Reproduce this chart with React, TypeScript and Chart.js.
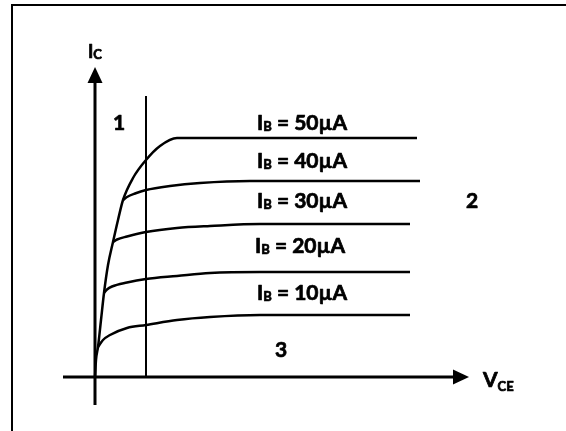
import React, { useEffect, useRef } from "react";
import { Chart, registerables } from "chart.js";

Chart.register(...registerables);

// Output characteristic curves: V_CE (V) vs I_C (mA)
const vce10 = [0.15, 0.4, 0.75, 1.6, 2.55, 4.1, 5.75, 8.25, 15.75];
const ic10 = [0.6, 0.74, 0.84, 0.98, 1.04, 1.14, 1.2, 1.24, 1.24];
const vce20 = [0.45, 0.6, 0.85, 1.6, 2.55, 4.1, 5.75, 8.25, 15.75];
const ic20 = [1.68, 1.75, 1.81, 1.89, 1.96, 2.02, 2.08, 2.1, 2.1];
const vce30 = [0.9, 1.1, 1.6, 2.55, 4.1, 5.75, 8.25, 15.75];
const ic30 = [2.7, 2.75, 2.81, 2.9, 2.98, 3.02, 3.06, 3.06];
const vce40 = [1.4, 1.6, 2.0, 2.55, 3.75, 5.25, 7.75, 16.25];
const ic40 = [3.54, 3.6, 3.67, 3.74, 3.82, 3.88, 3.92, 3.92];
const vce50 = [0, 0.05, 0.15, 0.3, 0.45, 0.65, 0.9, 1.15, 1.4, 1.9, 2.55, 3.25, 4.1, 16.1];
const ic50 = [0, 0.34, 0.6, 1.14, 1.68, 2.24, 2.7, 3.14, 3.54, 3.98, 4.34, 4.62, 4.78, 4.78];

// Saturation boundary line
const satV = [2.55, 2.55];
const satI = [0, 5.62];

// Axes (ending at arrow bases)
const xAxisV = [-1.6, 17.95];
const xAxisI = [0, 0];
const yAxisV = [0, 0];
const yAxisI = [-0.56, 5.9];

// Labels
const baseCurrents = ["50", "40", "30", "20", "10"];
const baseLabelV = [8.1, 8.1, 8.1, 8.0, 8.1];
const baseLabelI = [4.94, 4.18, 3.38, 2.48, 1.54];
const regionNames = ["1", "2", "3"];
const regionV = [1.2, 18.85, 9.3];
const regionI = [4.94, 3.38, 0.4];

const FONT = "Lato, 'Open Sans', sans-serif";

const pts = (xs: number[], ys: number[]) => xs.map((x, i) => ({ x, y: ys[i] }));

const arrowPlugin = {
  id: "arrowheads",
  afterDatasetsDraw(chart: any) {
    const ctx = chart.ctx;
    chart.data.datasets.forEach((ds: any, i: number) => {
      if (!ds.arrow) return;
      const meta = chart.getDatasetMeta(i);
      const n = meta.data.length;
      const a = meta.data[n - 2];
      const b = meta.data[n - 1];
      const ang = Math.atan2(b.y - a.y, b.x - a.x);
      const len = 15;
      const half = 7.5;
      ctx.save();
      ctx.translate(b.x, b.y);
      ctx.rotate(ang);
      ctx.beginPath();
      ctx.moveTo(-1, -half);
      ctx.lineTo(len, 0);
      ctx.lineTo(-1, half);
      ctx.closePath();
      ctx.fillStyle = "#000";
      ctx.fill();
      ctx.restore();
    });
  },
};

function txt(ctx: any, s: string, x: number, y: number) {
  ctx.fillText(s, x, y);
  ctx.strokeText(s, x, y);
}

function drawSub(ctx: any, x: number, y: number, main: string, sub: string, rest: string, size: number, subSize: number, subDrop: number) {
  ctx.font = `bold ${size}px ${FONT}`;
  txt(ctx, main, x, y);
  let cx = x + ctx.measureText(main).width;
  ctx.font = `bold ${subSize}px ${FONT}`;
  txt(ctx, sub, cx, y + subDrop);
  cx += ctx.measureText(sub).width;
  if (rest) {
    ctx.font = `bold ${size}px ${FONT}`;
    txt(ctx, rest, cx, y);
  }
}

const labelPlugin = {
  id: "labels",
  afterDatasetsDraw(chart: any) {
    const ctx = chart.ctx;
    const xs = chart.scales.x;
    const ys = chart.scales.y;
    ctx.save();
    ctx.fillStyle = "#000";
    ctx.strokeStyle = "#000";
    ctx.lineWidth = 0.7;
    ctx.lineJoin = "round";
    ctx.textBaseline = "alphabetic";
    ctx.textAlign = "left";
    baseCurrents.forEach((c, i) => {
      drawSub(ctx, xs.getPixelForValue(baseLabelV[i]), ys.getPixelForValue(baseLabelI[i]), "I", "B", " = " + c + "\u00B5A", 21, 13, 1);
    });
    ctx.font = `bold 21px ${FONT}`;
    ctx.textAlign = "center";
    regionNames.forEach((r, i) => {
      txt(ctx, r, xs.getPixelForValue(regionV[i]), ys.getPixelForValue(regionI[i]));
    });
    ctx.textAlign = "left";
    drawSub(ctx, xs.getPixelForValue(-0.35), ys.getPixelForValue(6.38), "I", "C", "", 18, 13, 1);
    drawSub(ctx, xs.getPixelForValue(19.4), ys.getPixelForValue(-0.2), "V", "CE", "", 21, 13, 4);
    ctx.restore();
  },
};

export default function App() {
  const ref = useRef<HTMLCanvasElement>(null);
  useEffect(() => {
    if (!ref.current) return;
    const curve = (xs: number[], ys: number[]) => ({
      data: pts(xs, ys),
      borderColor: "#000",
      borderWidth: 2.5,
      pointRadius: 0,
      cubicInterpolationMode: "monotone" as const,
      fill: false,
    });
    const straight = (xs: number[], ys: number[], w: number, arrow = false) => ({
      data: pts(xs, ys),
      borderColor: "#000",
      borderWidth: w,
      pointRadius: 0,
      tension: 0,
      fill: false,
      borderCapStyle: "butt" as const,
      arrow,
    });
    const chart = new Chart(ref.current, {
      type: "line",
      data: {
        datasets: [
          straight(xAxisV, xAxisI, 3, true),
          straight(yAxisV, yAxisI, 3, true),
          straight(satV, satI, 2),
          curve(vce10, ic10),
          curve(vce20, ic20),
          curve(vce30, ic30),
          curve(vce40, ic40),
          curve(vce50, ic50),
        ] as any,
      },
      options: {
        animation: false,
        responsive: false,
        maintainAspectRatio: false,
        devicePixelRatio: 1,
        layout: { padding: 0 },
        plugins: { legend: { display: false }, tooltip: { enabled: false }, title: { display: false } },
        events: [],
        scales: {
          x: { type: "linear", min: -4.75, max: 23.55, display: false },
          y: { type: "linear", min: -1.08, max: 7.54, display: false },
        },
      },
      plugins: [arrowPlugin, labelPlugin],
    });
    return () => chart.destroy();
  }, []);
  return (
    <div style={{ position: "fixed", left: 0, top: 0, width: 566, height: 431, background: "#fff", overflow: "hidden" }}>
      <div
        style={{
          position: "absolute",
          left: 11,
          top: 4,
          right: -10,
          bottom: -10,
          borderLeft: "2px solid #000",
          borderTop: "2px solid #000",
        }}
      />
      <canvas ref={ref} width={566} height={431} style={{ position: "absolute", left: 0, top: 0, width: 566, height: 431 }} />
    </div>
  );
}
